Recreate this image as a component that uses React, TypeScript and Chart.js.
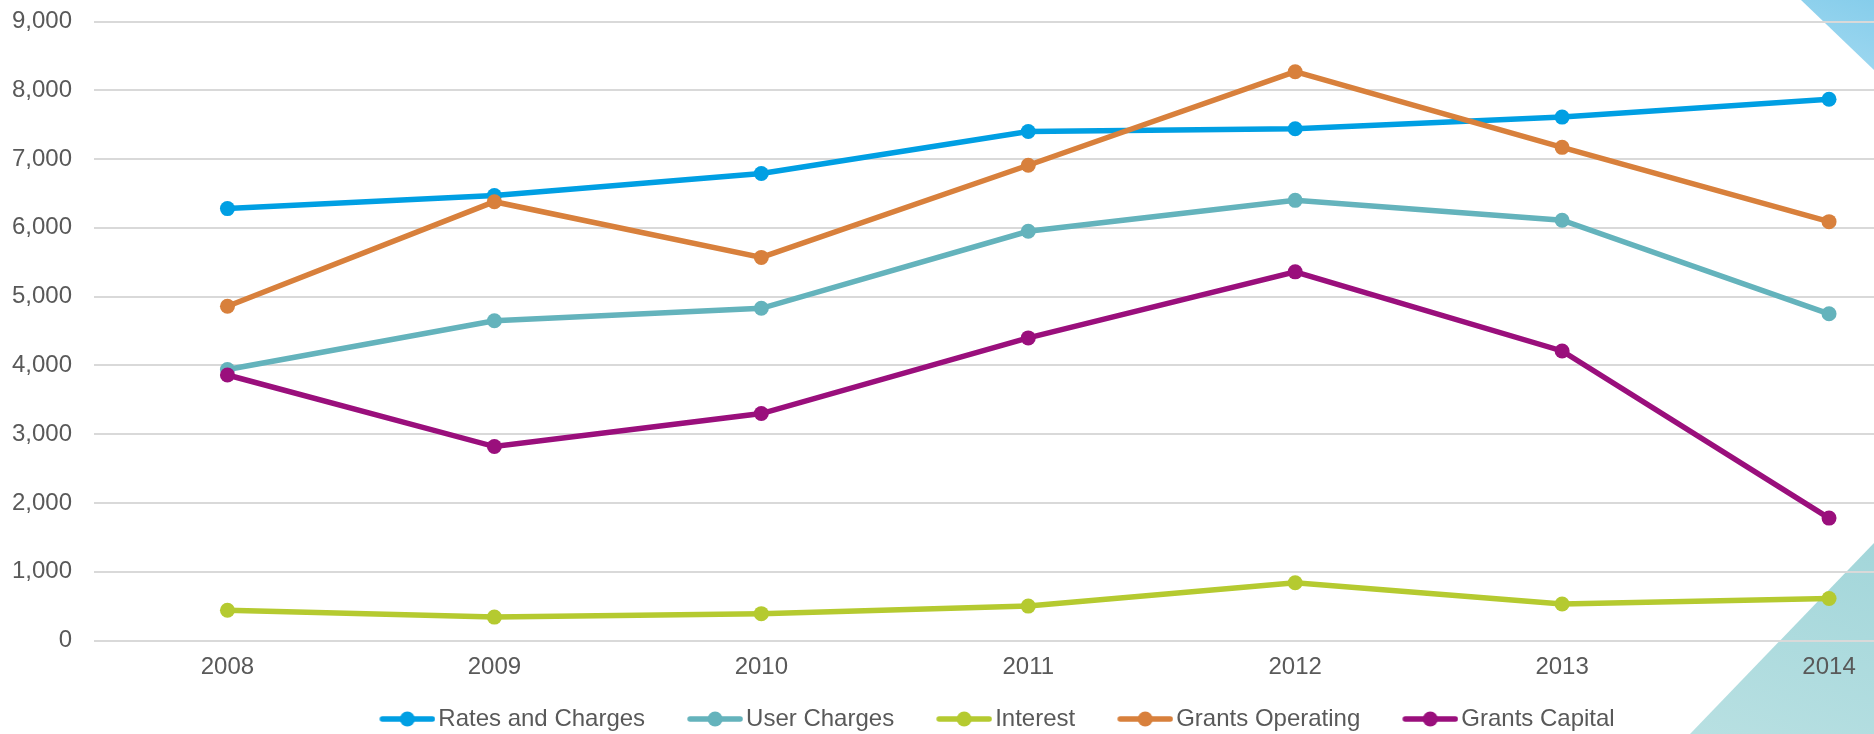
import React, { useEffect, useRef } from "react";
import { Chart, registerables } from "chart.js";

Chart.register(...registerables);

// ---- data ----
const years = ["2008", "2009", "2010", "2011", "2012", "2013", "2014"];
const ratesAndCharges = [6280, 6470, 6790, 7400, 7440, 7610, 7870];
const userCharges = [3940, 4650, 4830, 5950, 6400, 6110, 4750];
const interest = [440, 340, 390, 500, 840, 530, 610];
const grantsOperating = [4860, 6380, 5570, 6910, 8270, 7170, 6090];
const grantsCapital = [3860, 2820, 3300, 4400, 5360, 4210, 1780];

const seriesNames = ["Rates and Charges", "User Charges", "Interest", "Grants Operating", "Grants Capital"];
const seriesValues = [ratesAndCharges, userCharges, interest, grantsOperating, grantsCapital];
const seriesColors = ["#009FE3", "#64B3BC", "#B5CA30", "#D8803C", "#9A0F7C"];
const seriesOrder = [4, 3, 2, 1, 0];

const yMin = 0;
const yMax = 9000;
const yStep = 1000;

const FONT = "'Liberation Sans', Arial, Helvetica, sans-serif";
const FONT_SIZE = 24;
const TEXT = "#595959";

function makeMarker(color: string): HTMLCanvasElement {
  const c = document.createElement("canvas");
  c.width = 89;
  c.height = 18;
  const ctx = c.getContext("2d")!;
  ctx.strokeStyle = color;
  ctx.lineWidth = 5.5;
  ctx.lineCap = "round";
  ctx.beginPath();
  ctx.moveTo(36, 9);
  ctx.lineTo(86, 9);
  ctx.stroke();
  ctx.fillStyle = color;
  ctx.beginPath();
  ctx.arc(61, 9, 7.5, 0, Math.PI * 2);
  ctx.fill();
  return c;
}

export default function App() {
  const ref = useRef<HTMLCanvasElement | null>(null);

  useEffect(() => {
    if (!ref.current) return;
    const markers = seriesColors.map(makeMarker);
    const chart = new Chart(ref.current, {
      type: "line",
      data: {
        labels: years,
        datasets: seriesNames.map((name, i) => ({
          label: name,
          data: seriesValues[i],
          borderColor: seriesColors[i],
          backgroundColor: seriesColors[i],
          pointBackgroundColor: seriesColors[i],
          pointBorderColor: seriesColors[i],
          pointBorderWidth: 0,
          pointRadius: 7.5,
          borderWidth: 5.5,
          tension: 0,
          fill: false,
          order: seriesOrder[i],
        })),
      },
      options: {
        responsive: false,
        devicePixelRatio: 1,
        animation: false,
        layout: { padding: { top: 21.5, left: 0, right: 0, bottom: 0 } },
        plugins: {
          tooltip: { enabled: false },
          title: { display: false },
          legend: {
            position: "bottom",
            labels: {
              usePointStyle: true,
              pointStyleWidth: 71,
              padding: 18,
              color: TEXT,
              font: { size: FONT_SIZE, family: FONT },
              generateLabels: (ch: any) => {
                const items = (Chart.defaults.plugins.legend.labels as any).generateLabels(ch);
                items.sort((a: any, b: any) => a.datasetIndex - b.datasetIndex);
                items.forEach((it: any) => {
                  it.pointStyle = markers[it.datasetIndex];
                });
                return items;
              },
            },
          },
        },
        scales: {
          x: {
            type: "category",
            offset: true,
            grid: { display: false, drawTicks: false },
            border: { display: false },
            ticks: { color: TEXT, font: { size: FONT_SIZE, family: FONT }, padding: 12, maxRotation: 0 },
            afterFit: (a: any) => {
              a.height = 48.5;
              a.paddingLeft = 0;
              a.paddingRight = 0;
            },
          },
          y: {
            min: yMin,
            max: yMax,
            grid: { color: "#D9D9D9", lineWidth: 2, drawTicks: false },
            border: { display: false },
            ticks: {
              stepSize: yStep,
              padding: 22,
              color: TEXT,
              font: { size: FONT_SIZE, family: FONT },
              callback: (v: any) => Number(v).toLocaleString("en-US"),
            },
            afterFit: (a: any) => {
              a.width = 94;
              a.paddingTop = 0;
              a.paddingBottom = 0;
            },
          },
        },
      },
    } as any);
    return () => chart.destroy();
  }, []);

  return (
    <div
      style={{
        position: "fixed",
        left: 0,
        top: 0,
        width: 1874,
        height: 734,
        overflow: "hidden",
        background: "#ffffff",
      }}
    >
      <div
        style={{
          position: "absolute",
          left: 1801,
          top: 0,
          width: 73,
          height: 70,
          background: "linear-gradient(200deg, #86CDEB, #A3DAF1)",
          clipPath: "polygon(0 0, 100% 0, 100% 100%)",
        }}
      />
      <div
        style={{
          position: "absolute",
          left: 1690,
          top: 543,
          width: 184,
          height: 191,
          background: "linear-gradient(20deg, #B8E0E2, #A3D6DA)",
          clipPath: "polygon(100% 0, 100% 100%, 0 100%)",
        }}
      />
      <canvas
        ref={ref}
        width={1970}
        height={741}
        style={{ position: "absolute", left: 0, top: 0, width: 1970, height: 741 }}
      />
    </div>
  );
}
